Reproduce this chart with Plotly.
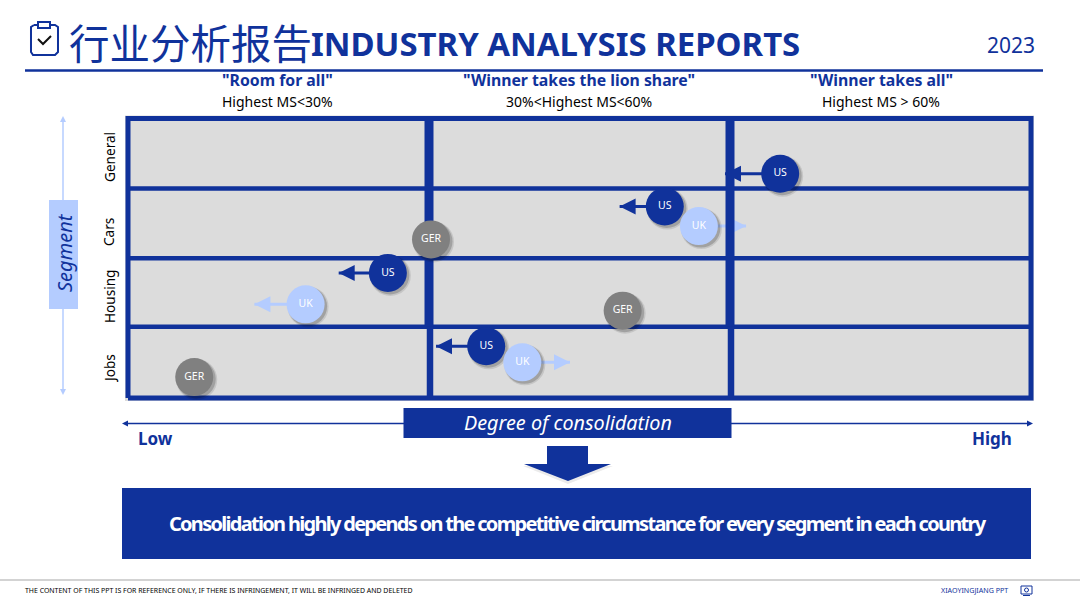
import plotly.graph_objects as go

W, H = 1080, 608
BLUE = "#10329b"
LIGHT = "#b4ccff"
GREY = "#808080"
CELL = "#dcdcdc"

# ---- data ----
title_cn = "行业分析报告"
title_en = "INDUSTRY ANALYSIS REPORTS"
year = "2023"
column_titles = ['"Room for all"', '"Winner takes the lion share"', '"Winner takes all"']
column_subtitles = ["Highest MS<30%", "30%<Highest MS<60%", "Highest MS > 60%"]
segments = ["General", "Cars", "Housing", "Jobs"]
column_breaks = [30, 60]          # highest market share, %
row_breaks = [1.02, 2, 3]

ger_x = [30.2, 49.3, 6.6]
ger_y = [2.27, 1.25, 0.30]

us_x = [65.0, 53.5, 25.9, 35.7]
us_y = [3.21, 2.74, 1.79, 0.74]
us_to = [59.5, 49.0, 21.0, 30.7]

uk_x = [56.9, 17.7, 39.3]
uk_y = [2.46, 1.34, 0.51]
uk_to = [61.6, 12.6, 44.05]

# ---- layout helpers ----
PL, PR, PT, PB = 128, 1031, 118.5, 398
XMAX, YMAX = 90, 4
ux = XMAX / (PR - PL)   # data units per pixel
uy = YMAX / (PB - PT)
PAD = 3                 # room round the plot so that the frame line is not clipped


def px(x):
    return x / W


def py(y):
    return 1 - y / H


def poly(points, fill, line=None, lw=0, close=True):
    d = "M" + " L".join(f"{px(a):.5f},{py(b):.5f}" for a, b in points) + (" Z" if close else "")
    return dict(type="path", xref="paper", yref="paper", path=d, fillcolor=fill if close else "rgba(0,0,0,0)",
                line=dict(color=line or fill, width=lw), layer="above")


def rect(x0, y0, x1, y1, fill):
    return dict(type="rect", xref="paper", yref="paper", x0=px(x0), x1=px(x1), y0=py(y0), y1=py(y1),
                fillcolor=fill, line=dict(width=0), layer="above")


def hline(x0, y0, x1, y1, color, width):
    return dict(type="line", xref="paper", yref="paper", x0=px(x0), x1=px(x1), y0=py(y0), y1=py(y1),
                line=dict(color=color, width=width), layer="above")


def label(text, x, y, size, color="black", weight="normal", style="normal", anchor="center", angle=0,
          family="Noto Sans, Open Sans, sans-serif"):
    return dict(text=text, x=px(x), y=py(y), xref="paper", yref="paper", xanchor=anchor, yanchor="middle",
                showarrow=False, textangle=angle,
                font=dict(size=size, color=color, weight=weight, style=style, family=family))


fig = go.Figure()


def line_trace(x, y, color, width):
    fig.add_trace(go.Scatter(x=x, y=y, mode="lines", line=dict(color=color, width=width), cliponaxis=False,
                             hoverinfo="skip", showlegend=False))


def add_arrows(xs, ys, tos, color):
    for x, y, to in zip(xs, ys, tos):
        line_trace([x, to], [y, y], color, 3)
        d = 1 if to > x else -1
        base = to - d * 16 * ux
        fig.add_trace(go.Scatter(x=[to, base, base, to], y=[y, y + 8 * uy, y - 8 * uy, y], mode="lines",
                                 fill="toself", fillcolor=color, line=dict(color=color, width=0),
                                 cliponaxis=False, hoverinfo="skip", showlegend=False))


def add_bubbles(xs, ys, color, name):
    for extra, alpha, off in ((3, 0.10, 2.5), (1, 0.18, 2)):
        fig.add_trace(go.Scatter(x=[v + off * ux for v in xs], y=[v - off * uy for v in ys], mode="markers",
                                 marker=dict(size=38 + extra, color=f"rgba(0,0,0,{alpha})", line=dict(width=0)),
                                 cliponaxis=False, hoverinfo="skip", showlegend=False))
    fig.add_trace(go.Scatter(x=xs, y=ys, mode="markers+text", text=[name] * len(xs), textposition="middle center",
                             textfont=dict(size=10.5, color="white", family="Noto Sans, sans-serif"),
                             marker=dict(size=38, color=color, line=dict(width=0)),
                             cliponaxis=False, hoverinfo="skip", showlegend=False))


# arrows sit under the grid, bubbles on top of it
add_arrows(us_x, us_y, us_to, BLUE)
add_arrows(uk_x, uk_y, uk_to, LIGHT)

for b in row_breaks:
    line_trace([0, XMAX], [b, b], BLUE, 4.5)
for c in column_breaks:
    line_trace([c, c], [row_breaks[0], YMAX], BLUE, 9)
    line_trace([c + 0.1, c + 0.1], [0, row_breaks[0]], BLUE, 6.5)
line_trace([0, XMAX, XMAX, 0, 0], [0, 0, YMAX, YMAX, 0], BLUE, 5)

add_bubbles(ger_x, ger_y, GREY, "GER")
add_bubbles(us_x, us_y, BLUE, "US")
add_bubbles(uk_x, uk_y, LIGHT, "UK")

shapes = [
    hline(25, 70.5, 1043, 70.5, BLUE, 2.5),
    hline(0, 580, 1080, 580, "#c4c4c4", 1.5),
    # segment axis
    hline(63, 122, 63, 390, LIGHT, 1.5),
    poly([(63, 116), (60, 122), (66, 122)], LIGHT),
    poly([(63, 395), (60, 389), (66, 389)], LIGHT),
    rect(49, 200, 78, 309, LIGHT),
    # consolidation axis
    hline(126, 423.5, 1028, 423.5, BLUE, 1.5),
    poly([(122, 423.5), (128, 420.5), (128, 426.5)], BLUE),
    poly([(1033, 423.5), (1027, 420.5), (1027, 426.5)], BLUE),
    rect(403.5, 408, 731.5, 438, BLUE),
    # big down arrow with a faint shadow
    poly([(547, 449), (588, 449), (588, 466), (613, 466), (568, 484), (523, 466), (547, 466)], "rgba(0,0,0,0.08)"),
    poly([(547, 446), (588, 446), (588, 464), (611, 464), (568, 481), (524, 464), (547, 464)], BLUE),
    rect(122, 488, 1031, 559, BLUE),
    # clipboard icon
    poly([(34, 25), (31, 27), (31, 52), (33, 55), (55, 55), (58, 52), (58, 27), (55, 25), (50, 25)],
         BLUE, BLUE, 2, close=False),
    poly([(38, 25), (34, 25)], BLUE, BLUE, 2, close=False),
    poly([(38, 22), (50, 22), (50, 28), (38, 28)], "white", BLUE, 2),
    poly([(38, 39), (43, 44), (51, 36)], BLUE, "#111111", 2, close=False),
    # footer icon
    rect(1021, 586, 1032, 594, "rgba(0,0,0,0)") | dict(line=dict(color=BLUE, width=1)),
    poly([(1023, 595.5), (1030, 595.5)], BLUE, BLUE, 1, close=False),
    dict(type="circle", xref="paper", yref="paper", x0=px(1024.5), x1=px(1028.5), y0=py(592), y1=py(588),
         fillcolor="rgba(0,0,0,0)", line=dict(color=BLUE, width=1), layer="above"),
]

closing_text = "Consolidation highly depends on the competitive circumstance for every segment in each country"

annotations = [
    label(title_cn, 66.5, 41, 40.5, BLUE, anchor="left", family="Noto Sans CJK SC"),
    label(title_en, 308.5, 43, 32.9, BLUE, weight="bold", anchor="left"),
    label(year, 1010.5, 45, 21, BLUE),
    label("Segment", 64, 253, 20, BLUE, style="italic", angle=-90),
    label("Degree of consolidation", 568, 422.5, 19.8, "white", style="italic"),
    label("Low", 156, 438, 17, BLUE, weight="bold"),
    label("High", 992, 438, 17, BLUE, weight="bold"),
    label(closing_text, 577, 523, 20, "white", weight="bold"),
    label("THE CONTENT OF THIS PPT IS FOR REFERENCE ONLY, IF THERE IS INFRINGEMENT, IT WILL BE INFRINGED AND DELETED",
          23, 590, 6.95, "black", anchor="left"),
    label("XIAOYINGJIANG PPT", 938.5, 590, 7.1, BLUE, anchor="left"),
]
for cx, t, s in zip((277, 579, 881), column_titles, column_subtitles):
    annotations.append(label(t, cx, 80, 15.8, BLUE, weight="bold"))
    annotations.append(label(s, cx, 101, 14))
for cy, s in zip((157, 232, 297, 369), segments):
    annotations.append(label(s, 109, cy, 13.6, angle=-90))

fig.update_layout(
    width=W, height=H, margin=dict(l=0, r=0, t=0, b=0), paper_bgcolor="white", plot_bgcolor=CELL,
    showlegend=False, shapes=shapes, annotations=annotations,
    xaxis=dict(domain=[px(PL - PAD), px(PR + PAD)], range=[-PAD * ux, XMAX + PAD * ux], visible=False, fixedrange=True),
    yaxis=dict(domain=[py(PB + PAD), py(PT - PAD)], range=[-PAD * uy, YMAX + PAD * uy], visible=False, fixedrange=True),
)

tighten = (
    "document.body.style.margin='0';document.body.style.overflow='hidden';"
    "document.querySelectorAll('.annotation-text').forEach(function(t){"
    "if(t.textContent.indexOf('Consolidation highly')===0){t.style.letterSpacing='-1.7px';}});"
)
fig.write_html("out.html", config=dict(displayModeBar=False), post_script=tighten)
